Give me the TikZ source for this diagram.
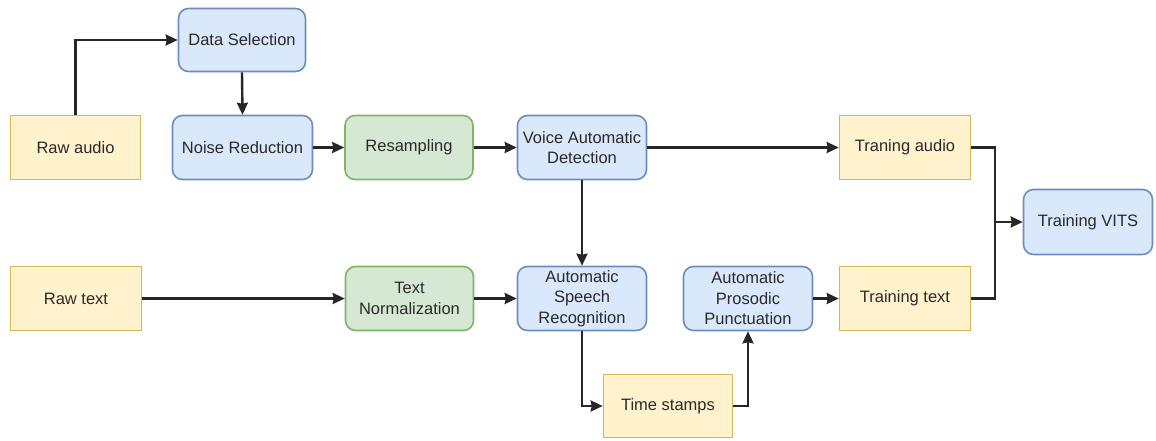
\documentclass[tikz,border=0pt]{standalone}
\usepackage{fontspec}
\setmainfont{Liberation Sans}
\usetikzlibrary{arrows.meta}
\definecolor{bfill}{HTML}{DAE8FC}\definecolor{bline}{HTML}{6C8EBF}
\definecolor{yfill}{HTML}{FFF2CC}\definecolor{yline}{HTML}{D6B656}
\definecolor{gfill}{HTML}{D5E8D4}\definecolor{gline}{HTML}{82B366}
\definecolor{txt}{HTML}{2A2A2A}
\begin{document}
\begin{tikzpicture}[x=1pt,y=-1pt,
  box/.style={draw,line width=1.6pt,align=center,text=txt,inner sep=2pt,
    font=\fontsize{16.5}{20.5}\selectfont},
  bluebox/.style={box,fill=bfill,draw=bline,rounded corners=10pt},
  greenbox/.style={box,fill=gfill,draw=gline,rounded corners=10pt},
  yellowbox/.style={box,fill=yfill,draw=yline},
  conn/.style={line width=2.4pt,draw=black!85},
  arr/.style={conn,-{Stealth[length=12pt,width=11pt,inset=1pt]}}]
\useasboundingbox (0,0) rectangle (1156,440);
\node[bluebox,minimum width=127pt,minimum height=63pt] (ds) at (242,40) {Data Selection};
\node[yellowbox,minimum width=130pt,minimum height=64pt] (ra) at (75.5,147.5) {Raw audio};
\node[bluebox,minimum width=140pt,minimum height=64pt] (nr) at (242.5,147.5) {Noise Reduction};
\node[greenbox,minimum width=128pt,minimum height=64pt] (rs) at (409,147.5) {Resampling};
\node[bluebox,minimum width=129pt,minimum height=64pt] (vad) at (582,147.5) {Voice Automatic\\Detection};
\node[yellowbox,minimum width=131pt,minimum height=64pt] (ta) at (905,147.5) {Traning audio};
\node[bluebox,minimum width=129pt,minimum height=65pt] (vits) at (1088,222) {Training VITS};
\node[yellowbox,minimum width=131pt,minimum height=64pt] (rt) at (76,298.5) {Raw text};
\node[greenbox,minimum width=128pt,minimum height=64pt] (tn) at (409.5,298.5) {Text\\Normalization};
\node[bluebox,minimum width=129pt,minimum height=64pt] (asr) at (582,298.5) {Automatic\\Speech\\Recognition};
\node[bluebox,minimum width=129pt,minimum height=64pt] (app) at (748,298.5) {Automatic\\Prosodic\\Punctuation};
\node[yellowbox,minimum width=131pt,minimum height=64pt] (tt) at (905,298.5) {Training text};
\node[yellowbox,minimum width=129pt,minimum height=63pt] (tsn) at (668,406) {Time stamps};
\coordinate (jn) at (995,222);
\draw[arr] (ra.north) |- (ds.west);
\draw[arr] (ds.south) -- (nr.north);
\draw[arr] (nr.east) -- (rs.west);
\draw[arr] (rs.east) -- (vad.west);
\draw[arr] (vad.east) -- (ta.west);
\draw[arr] (vad.south) -- (asr.north);
\draw[arr] (rt.east) -- (tn.west);
\draw[arr] (tn.east) -- (asr.west);
\draw[arr] (asr.south) |- (tsn.west);
\draw[arr] (tsn.east) -| (app.south);
\draw[arr] (app.east) -- (tt.west);
\draw[conn] (ta.east) -| (jn);
\draw[conn] (tt.east) -| (jn);
\draw[arr] (jn) -- (vits.west);
\end{tikzpicture}
\end{document}
